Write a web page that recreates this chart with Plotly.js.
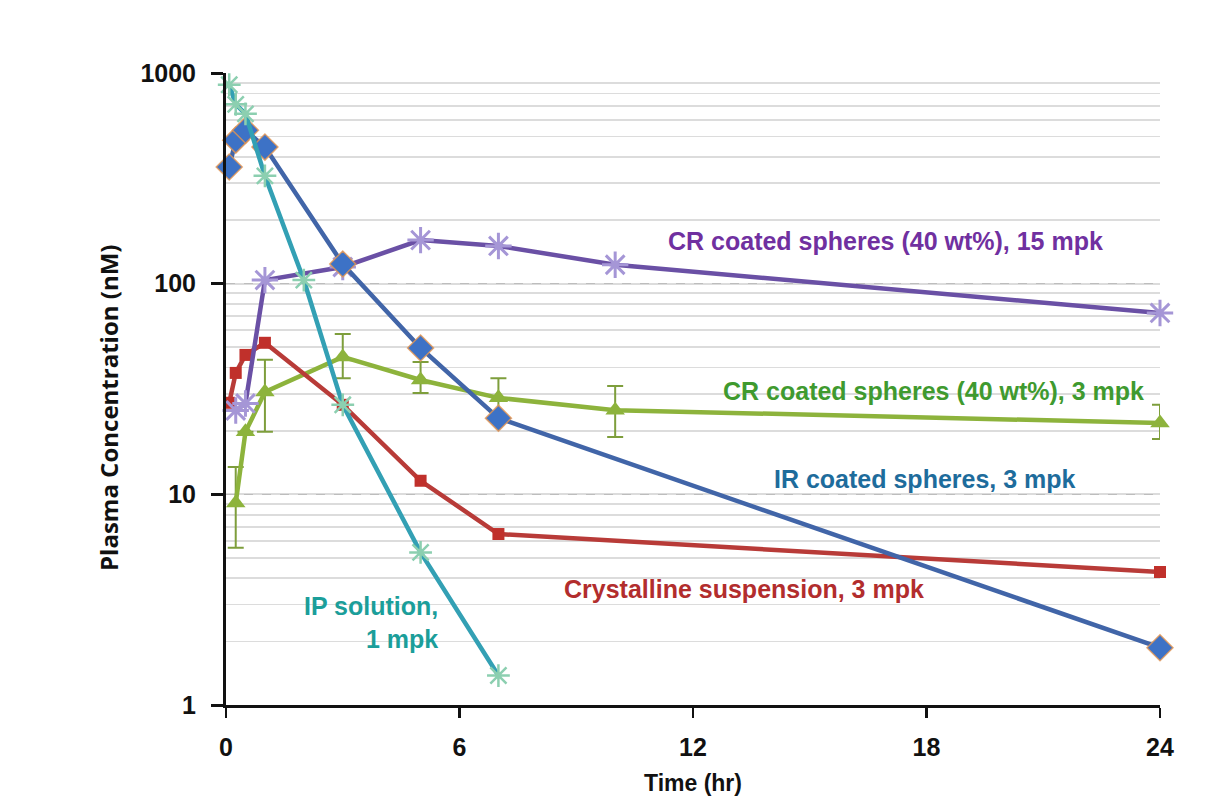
<!DOCTYPE html>
<html>
<head>
<meta charset="utf-8">
<script src="https://cdn.plot.ly/plotly-3.0.1.min.js"></script>
<style>html,body{margin:0;padding:0;background:#fff;}#chart{width:1214px;height:799px;}</style>
</head>
<body>
<div id="chart"></div>
<script>
// Time points (hr) and plasma concentrations (nM)
var irTime = [0.083, 0.25, 0.5, 1, 3, 5, 7, 24];
var irConc = [358, 480, 535, 445, 124, 49.5, 23, 1.87];

var ipTime = [0.083, 0.25, 0.5, 1, 2, 3, 5, 7];
var ipConc = [880, 710, 640, 325, 104, 26.6, 5.3, 1.38];

var cr15Time = [0.25, 0.5, 1, 3, 5, 7, 10, 24];
var cr15Conc = [25, 27, 104, 120, 161, 151, 123, 72.6];

var crysTime = [0.083, 0.25, 0.5, 1, 3, 5, 7, 24];
var crysConc = [27.2, 37.7, 45.9, 52.4, 26.6, 11.6, 6.48, 4.28];

var cr3Time = [0.25, 0.5, 1, 3, 5, 7, 10, 24];
var cr3Conc = [9.1, 19.8, 30.6, 44.9, 34.9, 28.7, 25.1, 21.8];
var cr3ErrUp = [13.5, 19.8, 43.5, 57.7, 42.5, 35.6, 32.7, 26.6];
var cr3ErrLow = [5.57, 19.8, 19.8, 35.6, 30.3, 23.8, 18.7, 18.3];

var xTicks = [0, 6, 12, 18, 24];
var yTicks = [1, 10, 100, 1000];
var yTickText = ['1', '10', '100', '1000'];

var seriesNames = ['IR coated spheres, 3 mpk', 'IP solution, 1 mpk', 'CR coated spheres (40 wt%), 15 mpk',
                   'Crystalline suspension, 3 mpk', 'CR coated spheres (40 wt%), 3 mpk'];

var errPlus = cr3ErrUp.map(function(v, i){ return Math.max(v - cr3Conc[i], 0); });
var errMinus = cr3ErrLow.map(function(v, i){ return Math.max(cr3Conc[i] - v, 0); });

var traces = [
  {x: cr3Time, y: cr3Conc, name: seriesNames[4], mode: 'lines+markers',
   line: {color: '#8DB33C', width: 4.5},
   marker: {symbol: 'triangle-up', size: 17, color: '#8DB33C'},
   error_y: {type: 'data', symmetric: false, array: errPlus, arrayminus: errMinus,
             color: '#7E9E3C', thickness: 2, width: 8},
   cliponaxis: false},
  {x: crysTime, y: crysConc, name: seriesNames[3], mode: 'lines+markers',
   line: {color: '#B83B38', width: 4.5},
   marker: {symbol: 'square', size: 12, color: '#C0302B'},
   cliponaxis: false},
  {x: cr15Time, y: cr15Conc, name: seriesNames[2], mode: 'lines+markers',
   line: {color: '#6A50A5', width: 4.5},
   marker: {symbol: 'asterisk-open', size: 22, color: '#A596D6', line: {color: '#A596D6', width: 3}},
   cliponaxis: false},
  {x: irTime, y: irConc, name: seriesNames[0], mode: 'lines+markers',
   line: {color: '#4165A8', width: 4.5},
   marker: {symbol: 'diamond', size: 20, color: '#3D72C6', line: {color: 'rgba(230,150,80,0.8)', width: 1.5}},
   cliponaxis: false},
  {x: ipTime, y: ipConc, name: seriesNames[1], mode: 'lines+markers',
   line: {color: '#33A0B4', width: 4.5},
   marker: {symbol: 'asterisk-open', size: 19, color: '#8CCFB0', line: {color: '#8CCFB0', width: 2.5}},
   cliponaxis: false}
];

var annFont = 'Liberation Sans, Arial, sans-serif';
var L = 226, R = 54, T = 73, B = 94, W = 1214, H = 799;
var plotW = W - L - R, plotH = H - T - B;
function px2paperX(p){ return (p - L) / plotW; }
function px2paperY(p){ return 1 - (p - T) / plotH; }

var layout = {
  width: W, height: H,
  margin: {l: L, r: R, t: T, b: B},
  paper_bgcolor: '#fff', plot_bgcolor: '#fff',
  showlegend: false,
  xaxis: {
    range: [0, 24], tickvals: xTicks, ticktext: xTicks.map(String),
    showgrid: false, zeroline: false,
    showline: true, linecolor: '#111', linewidth: 3,
    ticks: 'outside', ticklen: 10, tickwidth: 2.5, tickcolor: '#111',
    ticklabelstandoff: 8,
    tickfont: {family: annFont, size: 25, color: '#111', weight: 'bold'}
  },
  yaxis: {
    type: 'log', range: [0, 3], tickvals: yTicks, ticktext: yTickText,
    showgrid: true, gridcolor: '#BDBDBD', gridwidth: 1.5, griddash: 'dash',
    minor: {dtick: 'D1', showgrid: true, gridcolor: '#DCDCDC', gridwidth: 1.8, griddash: 'solid', ticks: ''},
    zeroline: false,
    showline: true, linecolor: '#111', linewidth: 3,
    ticks: 'outside', ticklen: 12, tickwidth: 3, tickcolor: '#111',
    ticklabelstandoff: 10,
    tickfont: {family: annFont, size: 25, color: '#111', weight: 'bold'}
  },
  annotations: []
};

var labels = [
  {text: 'CR coated spheres (40 wt%), 15 mpk', px: 885, py: 241, color: '#7030A0', anchor: 'center'},
  {text: 'CR coated spheres (40 wt%), 3 mpk', px: 933, py: 391, color: '#3F9A2F', anchor: 'center'},
  {text: 'IR coated spheres, 3 mpk', px: 925, py: 479, color: '#1E6C9C', anchor: 'center'},
  {text: 'Crystalline suspension, 3 mpk', px: 744, py: 589, color: '#B22D2D', anchor: 'center'},
  {text: 'IP solution,<br>1 mpk', px: 440, py: 622, color: '#1B9E9A', anchor: 'right'}
];
layout.annotations = labels.map(function(l){
  return {
    xref: 'paper', yref: 'paper',
    x: px2paperX(l.px), y: px2paperY(l.py),
    xanchor: l.anchor, yanchor: 'middle', align: l.anchor === 'right' ? 'right' : 'center',
    text: l.text, showarrow: false,
    font: {family: annFont, size: 25, color: l.color, weight: 'bold'}
  };
});
// axis titles placed as annotations
layout.annotations.push({
  xref: 'paper', yref: 'paper', x: px2paperX(108), y: px2paperY(408),
  xanchor: 'center', yanchor: 'middle', textangle: -90, showarrow: false,
  text: 'Plasma Concentration (nM)',
  font: {family: 'Open Sans, sans-serif', size: 24, color: '#111', weight: 'bold'}
});
layout.annotations.push({
  xref: 'paper', yref: 'paper', x: px2paperX(693), y: px2paperY(783),
  xanchor: 'center', yanchor: 'middle', showarrow: false,
  text: 'Time (hr)',
  font: {family: annFont, size: 23, color: '#111', weight: 'bold'}
});

Plotly.newPlot('chart', traces, layout, {displayModeBar: false, staticPlot: true});
</script>
</body>
</html>
